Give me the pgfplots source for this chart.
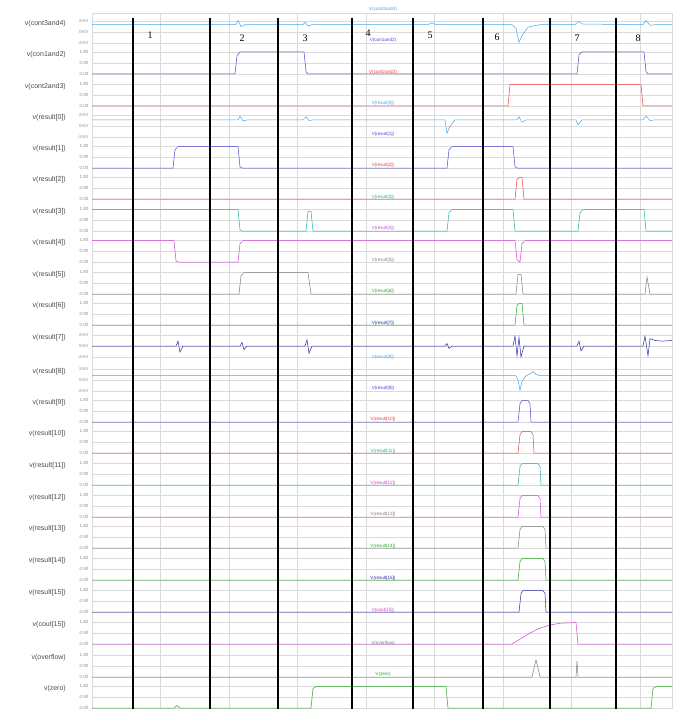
\documentclass[border=0pt]{standalone}
\usepackage{pgfplots}
\pgfplotsset{compat=1.18}
\usepackage{fontspec}
\setmainfont{Liberation Sans}
\newfontfamily\numfont{Liberation Serif}
\definecolor{lb}{RGB}{70,165,235}
\definecolor{bl}{RGB}{70,70,210}
\definecolor{rd}{RGB}{235,60,60}
\definecolor{tl}{RGB}{30,175,165}
\definecolor{mg}{RGB}{215,60,215}
\definecolor{gy}{RGB}{125,125,125}
\definecolor{gn}{RGB}{40,165,40}
\definecolor{db}{RGB}{40,40,170}
\definecolor{gridc}{RGB}{218,218,218}
\pgfplotsset{panel/.style={line width=0.5pt, y filter/.expression={#1+22-y*22/1.8}}}
\begin{document}
\begin{tikzpicture}[x=1pt,y=1pt]
\useasboundingbox (0,0) rectangle (682,709);
\begin{axis}[
  at={(92,4)}, anchor=south west, scale only axis,
  width=580pt, height=700pt,
  xmin=92, xmax=672, ymin=5, ymax=705, y dir=reverse,
  clip=false,
  axis line style={draw=gridc, line width=0.5pt},
  major tick length=0pt,
  xtick={160.5,229,297.5,366,434.5,503,571.5,640},
  xticklabels={},
  xmajorgrids, ymajorgrids,
  major grid style={draw=gridc, line width=0.4pt},
  ytick={13,24,35,44,55,66,76,87,98,107,118,129,138,149,160,169,180,191,201,212,223,232,243,254,264,275,286,295,306,317,327,338,349,361,372,383,392,403,414,423,434,445,455,466,477,487,498,509,518,529,540,550,561,572,582,593,604,614,625,636,647,658,669,678,689,700},
  yticklabels={2mV,0mV,-2mV, 1.80,0.90,0.00, 1.80,0.90,0.00, 2mV,0mV,-2mV, 1.80,0.90,0.00, 1.80,0.90,0.00, 1.80,0.90,0.00, 1.80,0.90,0.00, 1.80,0.90,0.00, 1.80,0.90,0.00, 2mV,0mV,-2mV, 2mV,0mV,-2mV, 1.80,0.90,0.00, 1.80,0.90,0.00, 1.80,0.90,0.00, 1.80,0.90,0.00, 1.80,0.90,0.00, 1.80,0.90,0.00, 1.80,0.90,0.00, 1.80,0.90,0.00, 1.80,0.90,0.00, 1.80,0.90,0.00},
  yticklabel style={font=\fontsize{4.5}{5}\selectfont, text=gray!90},
]
% v(cont3and4)
\addplot[lb, panel=13] coordinates {(92,1.5) (236,1.5) (238,1.85) (241,1.35) (245,1.5) (303,1.5) (305,1.7) (308,1.4) (312,1.5) (428,1.5) (432,1.65) (436,1.5) (512,1.5) (516,1.2) (519,0.05) (522,0.6) (528,1.3) (540,1.5) (575,1.5) (578,1.75) (583,1.55) (643,1.5) (646,1.85) (650,1.45) (656,1.5) (672,1.5)};
% v(con1and2)
\addplot[bl, panel=44] coordinates {(92,0) (235,0) (237,1.5) (240,1.8) (304,1.8) (306,0.2) (308,0) (577,0) (579,1.6) (582,1.8) (644,1.8) (646,0.2) (648,0) (672,0)};
% v(cont2and3)
\addplot[rd, panel=76] coordinates {(92,0) (508,0) (510,1.75) (641,1.75) (643,0) (672,0)};
% v(result[0])
\addplot[lb, panel=107] coordinates {(92,1.4) (238,1.4) (240,1.7) (243,1.3) (247,1.4) (303,1.4) (306,1.65) (309,1.35) (313,1.4) (445,1.4) (447,0.3) (450,0.9) (455,1.4) (517,1.4) (519,1.65) (522,1.2) (526,1.4) (576,1.4) (578,1.0) (582,1.4) (643,1.4) (646,1.7) (650,1.35) (655,1.4) (672,1.4)};
% v(result[1])
\addplot[bl, panel=138] coordinates {(92,0) (173,0) (175,1.5) (178,1.75) (238,1.75) (240,0.1) (242,0) (447,0) (449,1.5) (452,1.75) (513,1.75) (515,0.1) (517,0) (672,0)};
% v(result[2])
\addplot[rd, panel=169] coordinates {(92,0) (515,0) (517,1.6) (519,1.75) (522,1.75) (524,0) (672,0)};
% v(result[3])
\addplot[tl, panel=201] coordinates {(92,1.75) (238,1.75) (240,0.1) (242,0) (306,0) (308,1.6) (311,1.6) (313,0) (447,0) (449,1.5) (452,1.75) (513,1.75) (515,0) (578,0) (580,1.5) (583,1.75) (644,1.75) (646,0) (672,0)};
% v(result[4])
\addplot[mg, panel=232] coordinates {(92,1.75) (174,1.75) (176,0.1) (178,0) (238,0) (240,1.5) (243,1.75) (515,1.75) (517,0.2) (520,0) (522,1.5) (525,1.75) (672,1.75)};
% v(result[5])
\addplot[gy, panel=264] coordinates {(92,0) (239,0) (241,1.5) (244,1.75) (308,1.75) (311,0) (516,0) (518,1.6) (521,1.6) (523,0) (645,0) (647,1.4) (650,0) (672,0)};
% v(result[6])
\addplot[gn, panel=295] coordinates {(92,0) (515,0) (517,1.6) (519,1.75) (522,1.75) (524,0) (672,0)};
% v(result[7])
\addplot[db, panel=327] coordinates {(92,0.9) (176,0.9) (178,1.3) (180,0.4) (183,0.9) (240,0.9) (242,1.2) (244,0.6) (247,0.9) (305,0.9) (307,1.4) (309,0.3) (312,0.9) (445,0.9) (447,1.1) (449,0.7) (452,0.9) (513,0.9) (515,1.7) (517,0.1) (519,1.6) (521,0.0) (524,0.9) (577,0.9) (579,1.3) (581,0.5) (584,0.9) (643,0.9) (645,1.7) (648,0.1) (650,1.5) (655,1.35) (662,1.3) (672,1.35)};
% v(result[8])
\addplot[lb, panel=361] coordinates {(92,1.25) (516,1.25) (518,0.9) (520,0.05) (522,0.8) (526,1.25) (530,1.4) (533,1.6) (536,1.35) (540,1.25) (672,1.25)};
% v(result[9])
\addplot[bl, panel=392] coordinates {(92,0) (518,0) (520,1.5) (522,1.75) (528,1.75) (530,1.5) (531,0) (672,0)};
% v(result[10])
\addplot[rd, panel=423] coordinates {(92,0) (518,0) (520,1.5) (522,1.75) (531,1.75) (533,1.5) (534,0) (672,0)};
% v(result[11])
\addplot[tl, panel=455] coordinates {(92,0) (518,0) (520,1.5) (522,1.75) (538,1.75) (540,1.5) (541,0) (672,0)};
% v(result[12])
\addplot[mg, panel=487] coordinates {(92,0) (518,0) (520,1.5) (522,1.75) (538,1.75) (540,1.5) (541,0) (672,0)};
% v(result[13])
\addplot[gy, panel=518] coordinates {(92,0) (518,0) (520,1.5) (522,1.75) (543,1.75) (545,1.5) (546,0) (672,0)};
% v(result[14])
\addplot[gn, panel=550] coordinates {(92,0) (518,0) (520,1.5) (522,1.75) (543,1.75) (545,1.5) (546,0) (672,0)};
% v(result[15])
\addplot[db, panel=582] coordinates {(92,0) (519,0) (521,1.5) (523,1.75) (543,1.75) (545,1.5) (546,0) (672,0)};
% v(cout[15])
\addplot[mg, panel=614] coordinates {(92,0) (512,0) (520,0.4) (530,0.9) (540,1.3) (550,1.55) (560,1.7) (576,1.75) (578,0) (672,0)};
% v(overflow)
\addplot[gy, panel=647] coordinates {(92,0) (532,0) (536,1.4) (540,0) (576,0) (577,1.3) (578,0) (672,0)};
% v(zero)
\addplot[gn, panel=678] coordinates {(92,0) (174,0) (177,0.2) (180,0) (311,0) (313,1.6) (316,1.75) (446,1.75) (448,0) (651,0) (653,1.6) (656,1.75) (672,1.75)};
% cursor lines
\addplot[black, line width=1.3pt] coordinates {(133,10) (133,705)};
\addplot[black, line width=1.3pt] coordinates {(210,10) (210,705)};
\addplot[black, line width=1.3pt] coordinates {(278,10) (278,705)};
\addplot[black, line width=1.3pt] coordinates {(352,10) (352,705)};
\addplot[black, line width=1.3pt] coordinates {(413,10) (413,705)};
\addplot[black, line width=1.3pt] coordinates {(483,10) (483,705)};
\addplot[black, line width=1.3pt] coordinates {(550,10) (550,705)};
\addplot[black, line width=1.3pt] coordinates {(616,10) (616,705)};
\end{axis}
% panel names on the left and trace names in the centre
\foreach \t/\nm/\col in {13/cont3and4/lb, 44/con1and2/bl, 76/cont2and3/rd, 107/result[0]/lb, 138/result[1]/bl, 169/result[2]/rd, 201/result[3]/tl, 232/result[4]/mg, 264/result[5]/gy, 295/result[6]/gn, 327/result[7]/db, 361/result[8]/lb, 392/result[9]/bl, 423/result[10]/rd, 455/result[11]/tl, 487/result[12]/mg, 518/result[13]/gy, 550/result[14]/gn, 582/result[15]/db, 614/cout[15]/mg, 647/overflow/gy, 678/zero/gn} {
  \node[anchor=east, inner sep=0pt, font=\fontsize{7}{8}\selectfont, text=black!70] at (66,709-\t-11) {v(\nm)};
  \node[inner sep=0pt, font=\fontsize{4.6}{5}\selectfont, text=\col] at (383,709-\t+3.5) {V(\nm)};
}
\foreach \xx/\yy/\n in {150/35/1, 242/38/2, 305/38/3, 368/33/4, 430/35/5, 497/37/6, 577/38/7, 638/38/8} {
  \node[inner sep=0pt, font=\numfont\fontsize{10}{10}\selectfont] at (\xx,709-\yy) {\n};
}
\end{tikzpicture}
\end{document}
